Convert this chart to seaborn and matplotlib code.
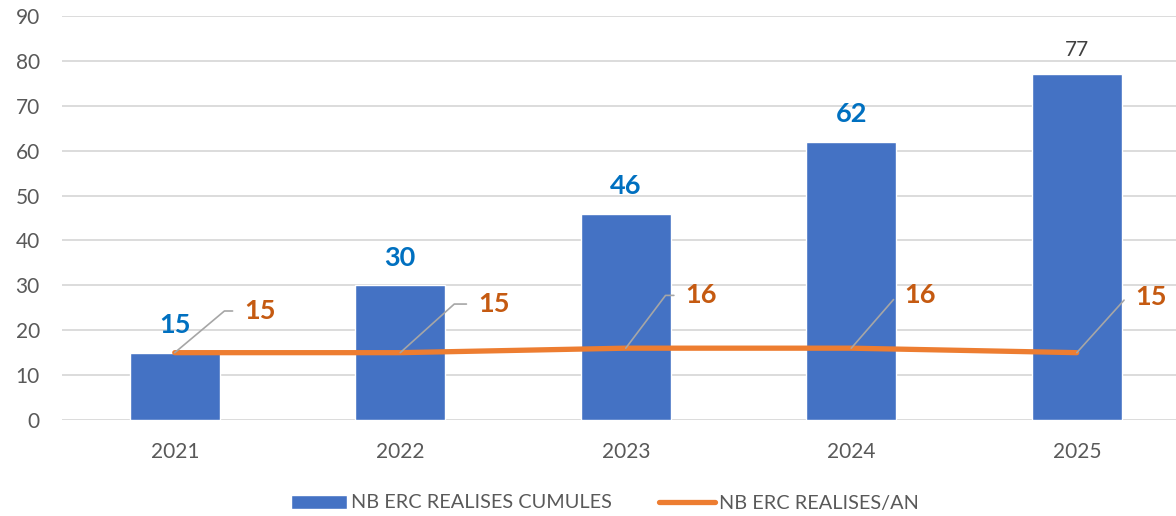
import matplotlib
matplotlib.use("Agg")
import matplotlib.pyplot as plt
import seaborn as sns

# Données
annees = ["2021", "2022", "2023", "2024", "2025"]
cumules = [15, 30, 46, 62, 77]
par_an = [15, 15, 16, 16, 15]
label_cumules = "NB ERC REALISES CUMULES"
label_an = "NB ERC REALISES/AN"

BLEU = "#4472C4"
ORANGE = "#ED7D31"
GRIS = "#595959"

sns.set_style("white")
plt.rcParams["font.family"] = ["Lato", "DejaVu Sans"]

fig = plt.figure(figsize=(11.76, 5.16), dpi=100)
ax = fig.add_axes([62 / 1176, 96 / 516, 1 - 62 / 1176, 404 / 516])

# Barres (cumul)
sns.barplot(x=annees, y=cumules, color=BLEU, width=0.4, saturation=1,
            label=label_cumules, ax=ax, zorder=2)

# Courbe (par an)
sns.lineplot(x=annees, y=par_an, color=ORANGE, linewidth=3.8, label=label_an,
             ax=ax, zorder=3, solid_capstyle="round", solid_joinstyle="round")

ax.set_ylim(0, 90)
ax.set_yticks(range(0, 91, 10))
ax.set_xlim(-0.5, 4.44)
ax.set_xlabel("")
ax.set_ylabel("")
ax.grid(axis="y", color="#D9D9D9", linewidth=1.3, zorder=0)
ax.set_axisbelow(True)
for s in ax.spines.values():
    s.set_visible(False)
ax.tick_params(axis="both", length=0, labelsize=15, labelcolor=GRIS)
ax.tick_params(axis="y", pad=16)
ax.tick_params(axis="x", pad=16)

# Étiquettes des barres
for i, v in enumerate(cumules):
    if i == len(cumules) - 1:
        ax.annotate(str(v), (i, v), xytext=(0, 13), textcoords="offset points",
                    ha="center", va="baseline", fontsize=15, color="#404040")
    else:
        ax.annotate(str(v), (i, v), xytext=(0, 14), textcoords="offset points",
                    ha="center", va="baseline", fontsize=19.5, fontweight="bold",
                    color="#0070C0")

# Étiquettes de la courbe avec lignes de rappel
decalages = [(50, 30, 40), (56, 35, 42), (43, 38, 53), (38, 38, 49), (42, 40, 48)]
for i, v in enumerate(par_an):
    dx, dy, ang = decalages[i]
    ax.annotate(str(v), (i, v), xytext=(dx, dy), textcoords="offset points",
                ha="left", va="center", fontsize=19.5, fontweight="bold",
                color="#C55A11", annotation_clip=False,
                arrowprops=dict(arrowstyle="-", color="#A6A6A6", lw=1.2,
                                shrinkA=6, shrinkB=0, relpos=(0, 0.5),
                                connectionstyle=f"angle,angleA=0,angleB={ang},rad=0"))

h, l = ax.get_legend_handles_labels()
ax.get_legend().remove()
ordre = [l.index(label_cumules), l.index(label_an)]
fig.legend([h[k] for k in ordre], [l[k] for k in ordre], loc="center",
           bbox_to_anchor=(605 / 1176, 1 - 503 / 516), ncol=2,
           frameon=False, fontsize=14.3, labelcolor=GRIS, columnspacing=2.4,
           handlelength=2.8, handletextpad=0.2)

fig.savefig("out.png", dpi=100)
